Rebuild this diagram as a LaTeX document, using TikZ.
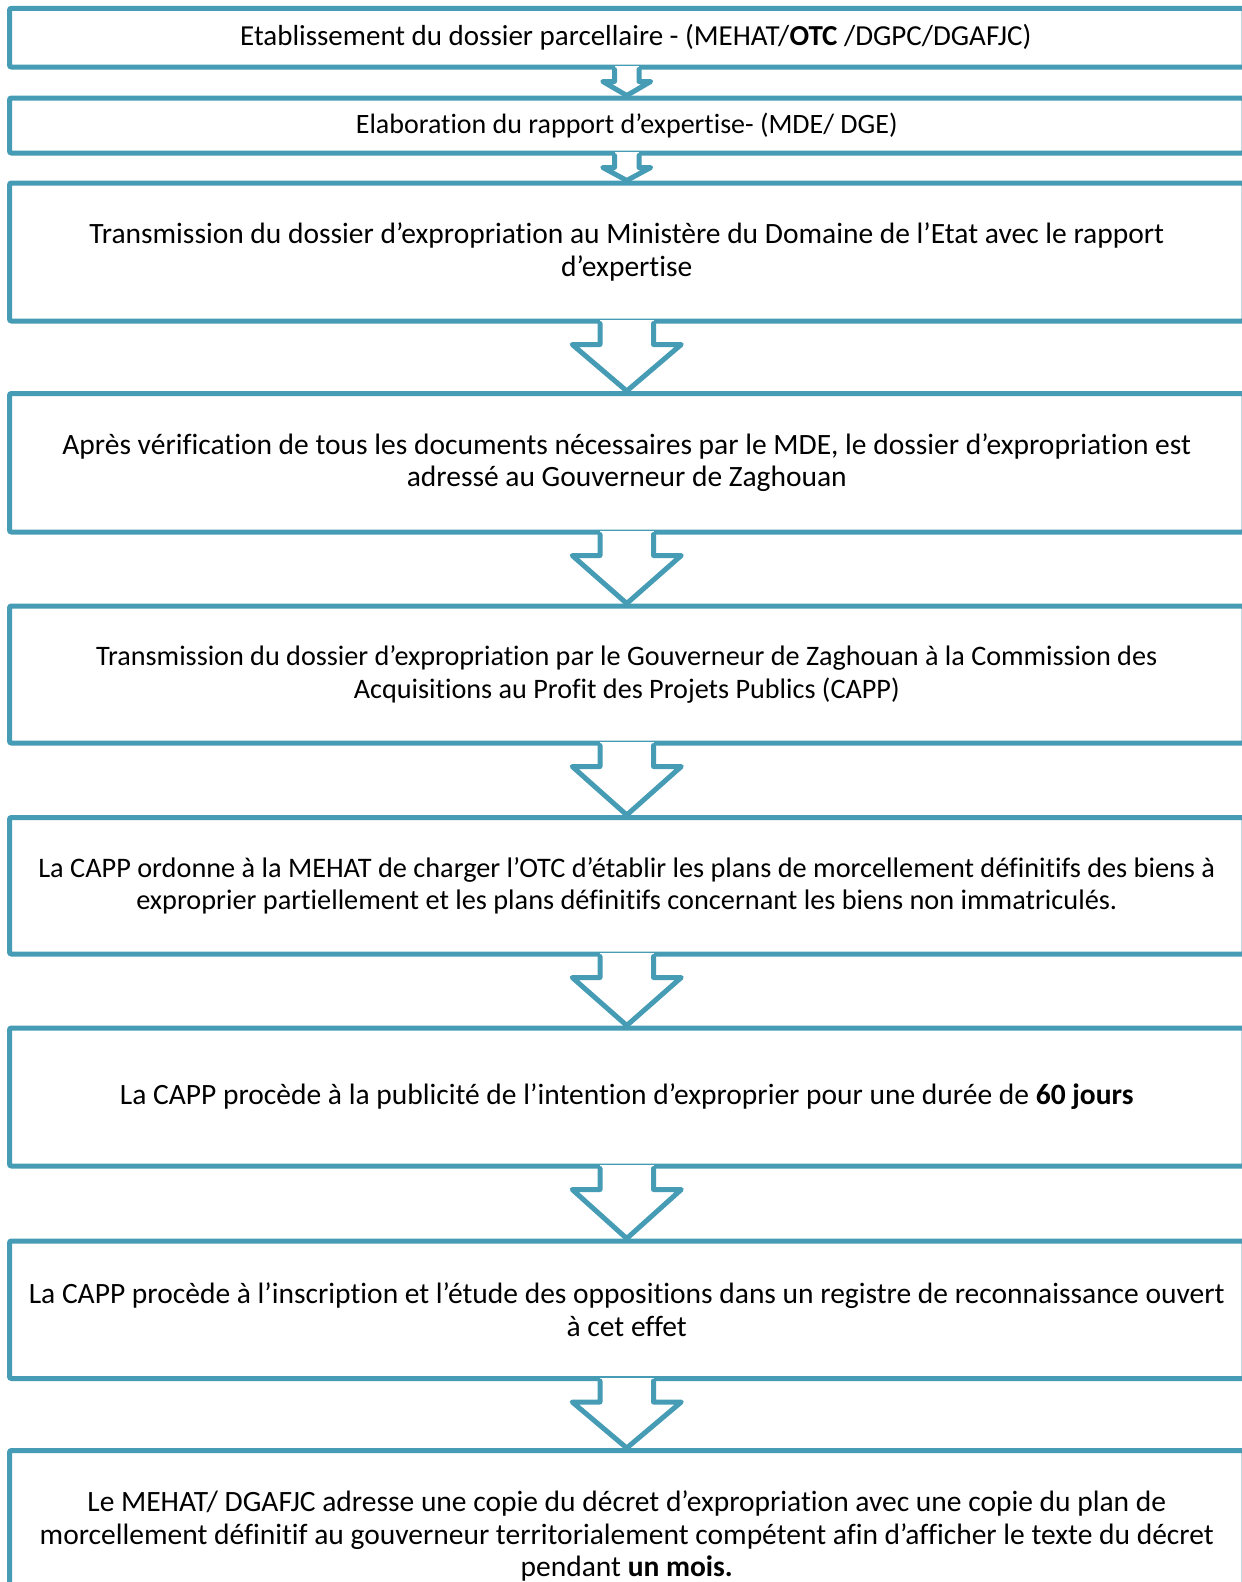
\documentclass[tikz,border=0pt]{standalone}
\usepackage{fontspec}
\setmainfont{Carlito}[Ligatures={NoCommon}]
\usetikzlibrary{calc}
\definecolor{flowteal}{RGB}{70,156,181}
\tikzset{
  flowbox/.style={draw=flowteal, line width=5pt, rounded corners=2pt, rectangle, inner sep=0pt,
    minimum width=1234.5pt, align=center, font=\fontsize{29.5}{32.6}\selectfont, text=black},
  arrowline/.style={draw=flowteal, line width=5pt, line join=round, line cap=round}
}
\newcommand\flowarrow[5]{%
  \fill[white] ($(#1.south)+(-#3,-3.5)$) rectangle ($(#1.south)+(#3,3.5)$);
  \draw[arrowline] ($(#1.south)+(-#3,0)$) -- ($(#1.south)+(-#3,#5)$) -- ($(#1.south)+(-#4,#5)$)
    -- (#2.north) -- ($(#1.south)+(#4,#5)$) -- ($(#1.south)+(#3,#5)$) -- ($(#1.south)+(#3,0)$);
}
\begin{document}
\begin{tikzpicture}[x=1pt,y=-1pt]
\path[use as bounding box, clip] (0,0) rectangle (1242,1582);
\fill[white] (0,0) rectangle (1242,1582);
\node[flowbox, minimum height=58.7pt, font=\fontsize{29}{32.6}\selectfont] (b1) at (626.75,37.65) {\hspace*{18pt}Etablissement du dossier parcellaire - (MEHAT/\textbf{OTC} /DGPC/DGAFJC)};
\node[flowbox, minimum height=55pt, font=\fontsize{28}{32.6}\selectfont] (b2) at (626.75,125.5) {Elaboration du rapport d’expertise- (MDE/ DGE)};
\node[flowbox, minimum height=138pt] (b3) at (626.75,252) {Transmission du dossier d’expropriation au Ministère du Domaine de l’Etat avec le rapport\\d’expertise};
\node[flowbox, minimum height=138.5pt] (b4) at (626.75,462.75) {Après vérification de tous les documents nécessaires par le MDE, le dossier d’expropriation est\\adressé au Gouverneur de Zaghouan};
\node[flowbox, minimum height=137pt, font=\fontsize{28.2}{32.6}\selectfont] (b5) at (626.75,674.5) {Transmission du dossier d’expropriation par le Gouverneur de Zaghouan à la Commission des\\Acquisitions au Profit des Projets Publics (CAPP)};
\node[flowbox, minimum height=136.5pt, font=\fontsize{28.3}{32.6}\selectfont] (b6) at (626.75,885.75) {La CAPP ordonne à la MEHAT de charger l’OTC d’établir les plans de morcellement définitifs des biens à\\exproprier partiellement et les plans définitifs concernant les biens non immatriculés.};
\node[flowbox, minimum height=138pt] (b7) at (626.75,1097) {La CAPP procède à la publicité de l’intention d’exproprier pour une durée de \textbf{60 jours}};
\node[flowbox, minimum height=137.5pt] (b8) at (626.75,1309.75) {La CAPP procède à l’inscription et l’étude des oppositions dans un registre de reconnaissance ouvert\\à cet effet};
\node[flowbox, minimum height=175pt] (b9) at (626.75,1538) {};
\node[align=center, font=\fontsize{29.5}{32.2}\selectfont, inner sep=0pt] (t9) at ($(b9.center)+(0,-2)$) {Le MEHAT/ DGAFJC adresse une copie du décret d’expropriation avec une copie du plan de\\morcellement définitif au gouverneur territorialement compétent afin d’afficher le texte du décret\\pendant \textbf{un mois.}};
\flowarrow{b1}{b2}{12.25}{24}{12}
\flowarrow{b2}{b3}{12.25}{24}{12}
\flowarrow{b3}{b4}{26.75}{54.5}{21}
\flowarrow{b4}{b5}{26.75}{54.5}{21}
\flowarrow{b5}{b6}{26.75}{54.5}{21}
\flowarrow{b6}{b7}{26.75}{54.5}{21}
\flowarrow{b7}{b8}{26.75}{54.5}{21}
\flowarrow{b8}{b9}{26.75}{54.5}{21}
\end{tikzpicture}
\end{document}
